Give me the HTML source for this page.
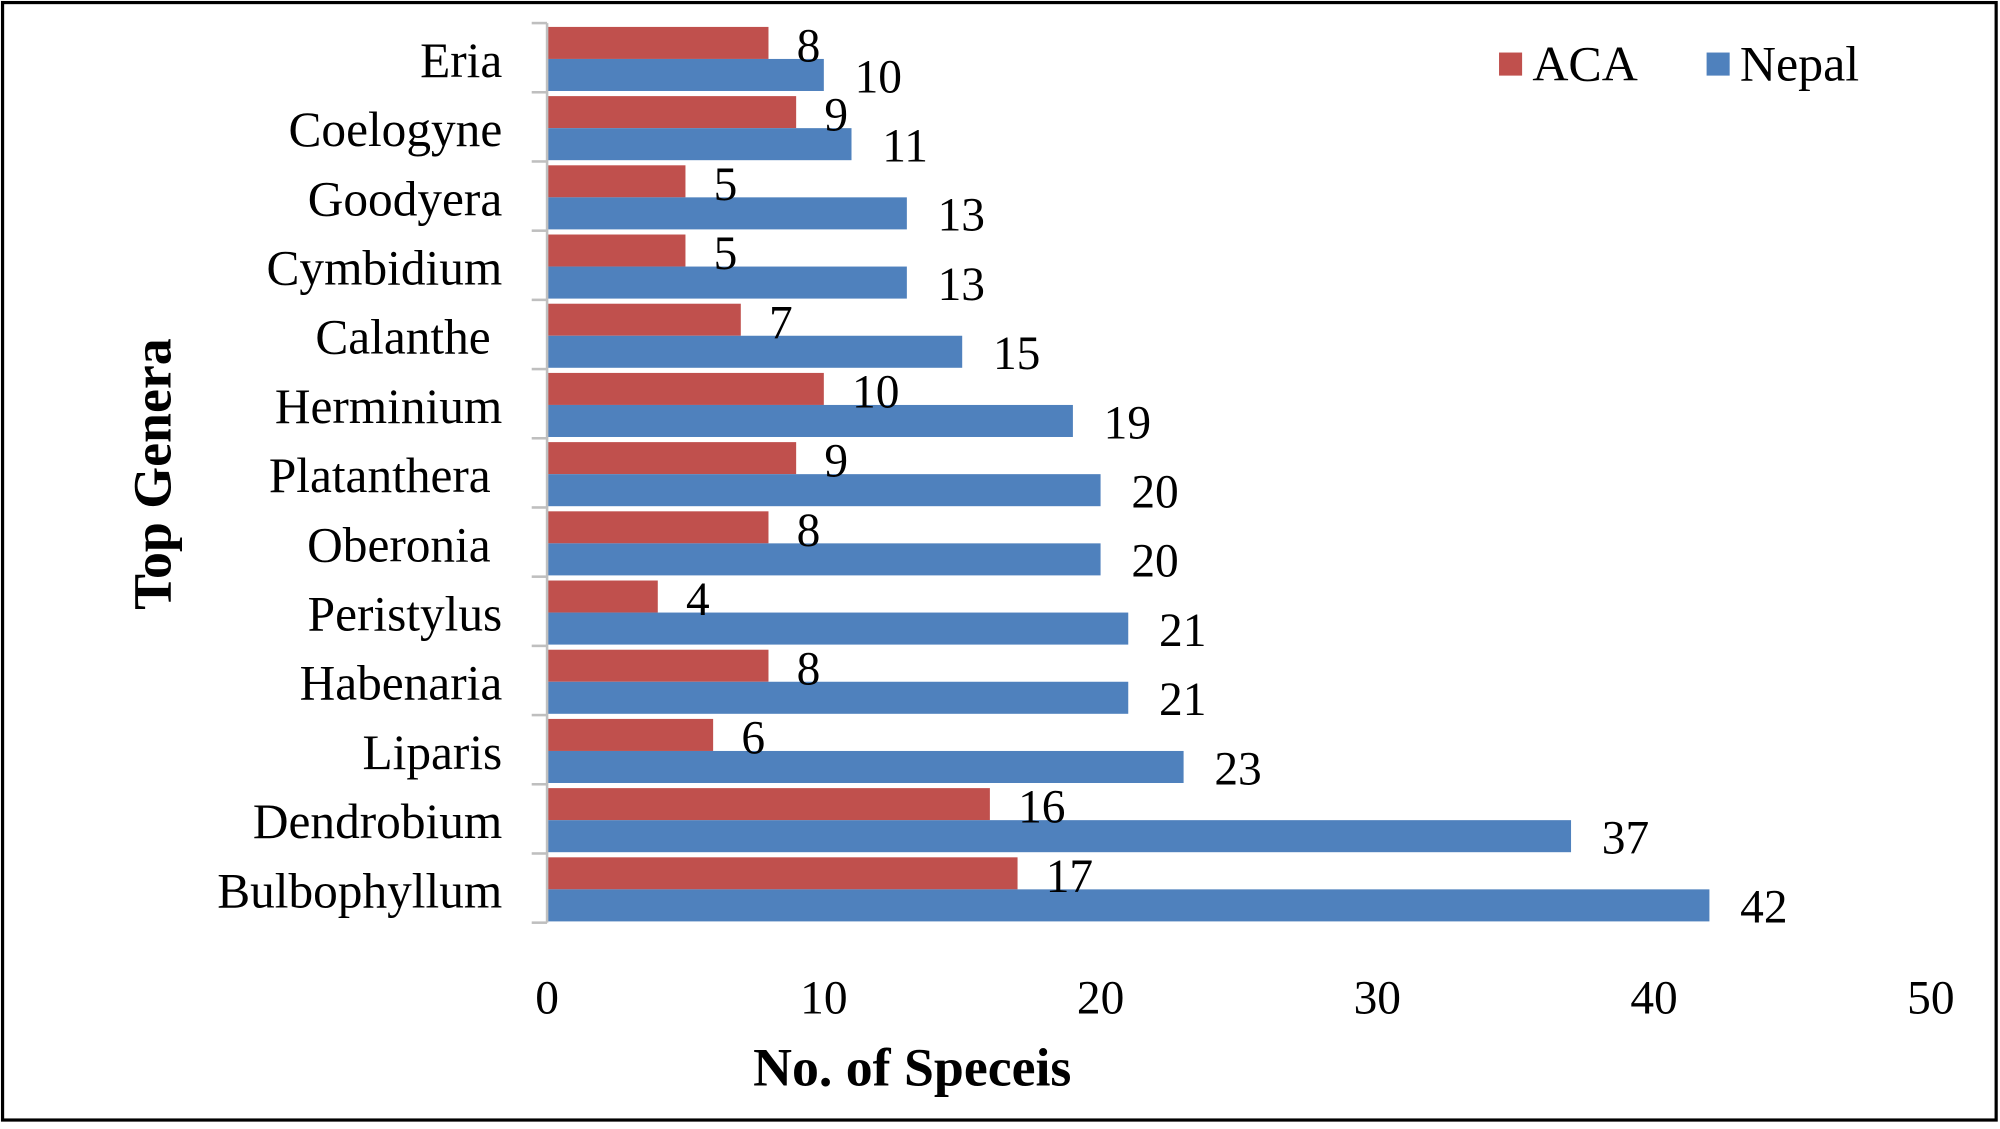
<!DOCTYPE html>
<html><head><meta charset="utf-8"><style>html,body{margin:0;padding:0;background:#fff}svg{display:block}</style></head>
<body>
<svg width="2000" height="1129" viewBox="0 0 1561 881" preserveAspectRatio="none" xmlns="http://www.w3.org/2000/svg" font-family="'Liberation Serif', serif">
<rect x="2" y="2" width="1556" height="872" fill="#fff" stroke="#000" stroke-width="2.5"/>
<g fill="#C0504D">
<rect x="427" y="21" width="172.8" height="25"/><rect x="427" y="75" width="194.4" height="25"/><rect x="427" y="129" width="108" height="25"/><rect x="427" y="183" width="108" height="25"/><rect x="427" y="237" width="151.2" height="25"/><rect x="427" y="291" width="216" height="25"/><rect x="427" y="345" width="194.4" height="25"/><rect x="427" y="399" width="172.8" height="25"/><rect x="427" y="453" width="86.4" height="25"/><rect x="427" y="507" width="172.8" height="25"/><rect x="427" y="561" width="129.6" height="25"/><rect x="427" y="615" width="345.6" height="25"/><rect x="427" y="669" width="367.2" height="25"/>
</g>
<g fill="#4F81BD">
<rect x="427" y="46" width="216" height="25"/><rect x="427" y="100" width="237.6" height="25"/><rect x="427" y="154" width="280.8" height="25"/><rect x="427" y="208" width="280.8" height="25"/><rect x="427" y="262" width="324" height="25"/><rect x="427" y="316" width="410.4" height="25"/><rect x="427" y="370" width="432" height="25"/><rect x="427" y="424" width="432" height="25"/><rect x="427" y="478" width="453.6" height="25"/><rect x="427" y="532" width="453.6" height="25"/><rect x="427" y="586" width="496.8" height="25"/><rect x="427" y="640" width="799.2" height="25"/><rect x="427" y="694" width="907.2" height="25"/>
</g>
<g stroke="#bfbfbf" stroke-width="2">
<line x1="427" y1="18" x2="427" y2="720"/>
<line x1="415" y1="18" x2="427" y2="18"/><line x1="415" y1="72" x2="427" y2="72"/><line x1="415" y1="126" x2="427" y2="126"/><line x1="415" y1="180" x2="427" y2="180"/><line x1="415" y1="234" x2="427" y2="234"/><line x1="415" y1="288" x2="427" y2="288"/><line x1="415" y1="342" x2="427" y2="342"/><line x1="415" y1="396" x2="427" y2="396"/><line x1="415" y1="450" x2="427" y2="450"/><line x1="415" y1="504" x2="427" y2="504"/><line x1="415" y1="558" x2="427" y2="558"/><line x1="415" y1="612" x2="427" y2="612"/><line x1="415" y1="666" x2="427" y2="666"/><line x1="415" y1="720" x2="427" y2="720"/>
</g>
<g font-size="38.5" text-anchor="end">
<text x="392" y="60">Eria</text><text x="392" y="114">Coelogyne</text><text x="392" y="168">Goodyera</text><text x="392" y="222">Cymbidium</text><text x="383" y="276">Calanthe</text><text x="392" y="330">Herminium</text><text x="383" y="384">Platanthera</text><text x="383" y="438">Oberonia</text><text x="392" y="492">Peristylus</text><text x="392" y="546">Habenaria</text><text x="392" y="600">Liparis</text><text x="392" y="654">Dendrobium</text><text x="392" y="708">Bulbophyllum</text>
</g>
<g font-size="37">
<text x="621.8" y="48">8</text><text x="643.4" y="102">9</text><text x="557" y="156">5</text><text x="557" y="210">5</text><text x="600.2" y="264">7</text><text x="665" y="318">10</text><text x="643.4" y="372">9</text><text x="621.8" y="426">8</text><text x="535.4" y="480">4</text><text x="621.8" y="534">8</text><text x="578.6" y="588">6</text><text x="794.6" y="642">16</text><text x="816.2" y="696">17</text>
<text x="667" y="72">10</text><text x="688.6" y="126">11</text><text x="731.8" y="180">13</text><text x="731.8" y="234">13</text><text x="775" y="288">15</text><text x="861.4" y="342">19</text><text x="883" y="396">20</text><text x="883" y="450">20</text><text x="904.6" y="504">21</text><text x="904.6" y="558">21</text><text x="947.8" y="612">23</text><text x="1250.2" y="666">37</text><text x="1358.2" y="720">42</text>
</g>
<g font-size="37" text-anchor="middle" fill="#000">
<text x="427" y="791">0</text><text x="643" y="791">10</text><text x="859" y="791">20</text><text x="1075" y="791">30</text><text x="1291" y="791">40</text><text x="1507" y="791">50</text>
</g>
<text x="712" y="847" font-size="42" font-weight="bold" text-anchor="middle">No. of Speceis</text>
<text transform="translate(133,370) rotate(-90)" font-size="42" font-weight="bold" text-anchor="middle">Top Genera</text>
<rect x="1170" y="41" width="18" height="18" fill="#C0504D"/><text x="1196" y="63" font-size="39">ACA</text>
<rect x="1332" y="41" width="18" height="18" fill="#4F81BD"/><text x="1358" y="63" font-size="39">Nepal</text>
</svg>
</body></html>
